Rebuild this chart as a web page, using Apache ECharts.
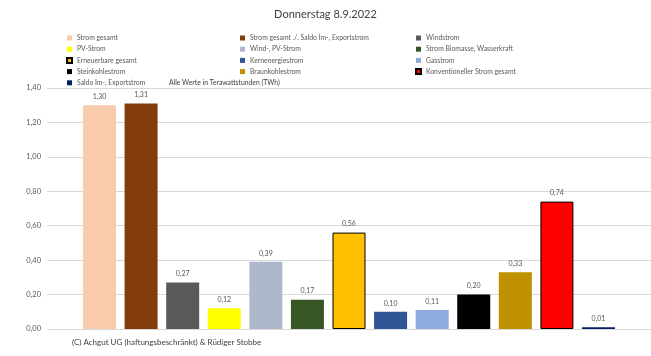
<!DOCTYPE html>
<html>
<head>
<meta charset="utf-8">
<script src="https://cdn.jsdelivr.net/npm/echarts@6/dist/echarts.min.js"></script>
<style>html,body{margin:0;padding:0;background:#fff}#c{width:651px;height:356px}</style>
</head>
<body>
<div id="c"></div>
<script>
const categories = [
  "Strom gesamt",
  "Strom gesamt ./. Saldo Im-, Exportstrom",
  "Windstrom",
  "PV-Strom",
  "Wind-, PV-Strom",
  "Strom Biomasse, Wasserkraft",
  "Erneuerbare gesamt",
  "Kernenergiestrom",
  "Gasstrom",
  "Steinkohlestrom",
  "Braunkohlestrom",
  "Konventioneller Strom gesamt",
  "Saldo Im-, Exportstrom"
];
const values = [1.30, 1.31, 0.27, 0.12, 0.39, 0.17, 0.56, 0.10, 0.11, 0.20, 0.33, 0.74, 0.01];
const colors = ["#F8CBAD", "#843C0C", "#595959", "#FFFF00", "#ADB9CA", "#375623", "#FFC000", "#2F5597", "#8FAADC", "#000000", "#BF9000", "#FF0000", "#002060"];
const bordered = ["Erneuerbare gesamt", "Konventioneller Strom gesamt"];
const yTicks = {min: 0, max: 1.4, interval: 0.2};

const font = "Lato, 'Liberation Sans', sans-serif";
const fmt = v => Number(v).toFixed(2).replace('.', ',');

const legendCols = [
  [0, 3, 6, 9, 12],
  [1, 4, 7, 10],
  [2, 5, 8, 11]
];
const legendLeft = [61, 235, 410];

const chart = echarts.init(document.getElementById('c'));
chart.setOption({
  animation: false,
  backgroundColor: '#fff',
  textStyle: {fontFamily: font},
  title: {
    text: 'Donnerstag 8.9.2022',
    left: 'center',
    top: 4,
    textStyle: {fontSize: 11, fontWeight: 'normal', color: '#404040', fontFamily: font}
  },
  legend: legendCols.map((col, k) => ({
    orient: 'vertical',
    left: legendLeft[k],
    top: 29,
    itemWidth: 5,
    itemHeight: 5,
    itemGap: 3.2,
    selectedMode: false,
    icon: 'rect',
    textStyle: {fontSize: 6.8, lineHeight: 8, color: '#595959', fontFamily: font},
    data: col.map(i => categories[i])
  })),
  grid: {left: 47, right: -2, top: 88, bottom: 27},
  xAxis: {
    type: 'category',
    data: [''],
    axisLine: {show: false},
    axisTick: {show: false},
    axisLabel: {show: false}
  },
  yAxis: {
    type: 'value',
    min: yTicks.min,
    max: yTicks.max,
    interval: yTicks.interval,
    axisLine: {show: false},
    axisTick: {show: false},
    axisLabel: {formatter: fmt, fontSize: 7.5, color: '#595959', margin: 6, fontFamily: font},
    splitLine: {lineStyle: {color: '#D9D9D9', width: 1}}
  },
  graphic: [
    {type: 'text', left: 169, top: 79, style: {text: 'Alle Werte in Terawattstunden (TWh)', fontSize: 6.8, fill: '#404040', fontFamily: font}},
    {type: 'text', left: 72, top: 338, style: {text: '(C) Achgut UG (haftungsbeschränkt) & Rüdiger Stobbe', fontSize: 8, fill: '#404040', fontFamily: font}}
  ],
  series: categories.map((name, i) => ({
    name: name,
    type: 'bar',
    data: [values[i]],
    barWidth: 33,
    barGap: '26%',
    itemStyle: bordered.includes(name)
      ? {color: colors[i], borderColor: '#000', borderWidth: 1}
      : {color: colors[i], borderWidth: 0},
    label: {show: true, position: 'top', distance: 5, formatter: p => fmt(p.value), fontSize: 7, color: '#595959', fontFamily: font}
  }))
});
</script>
</body>
</html>
